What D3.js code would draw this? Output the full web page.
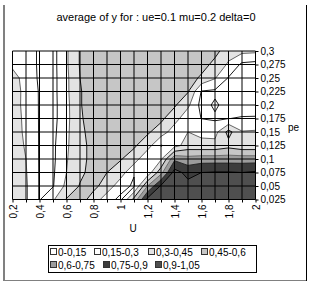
<!DOCTYPE html>
<html><head><meta charset="utf-8">
<script src="https://cdn.jsdelivr.net/npm/d3@7"></script>
<style>
html,body{margin:0;padding:0;background:#fff;}
svg{display:block;font-family:"Liberation Sans",Arial,sans-serif;}
</style></head><body>
<svg id="c" width="310" height="289"></svg>
<script>
const title = "average of y for : ue=0.1 mu=0.2 delta=0";
const uValues = [0.2,0.3,0.4,0.5,0.6,0.7,0.8,0.9,1.0,1.1,1.2,1.3,1.4,1.5,1.6,1.7,1.8,1.9,2.0];
const uTickLabels = ["0,2","0,4","0,6","0,8","1","1,2","1,4","1,6","1,8","2"];
const peValues = [0.3,0.275,0.25,0.225,0.2,0.175,0.15,0.125,0.1,0.075,0.05,0.025];
const peTickLabels = ["0,3","0,275","0,25","0,225","0,2","0,175","0,15","0,125","0,1","0,075","0,05","0,025"];
const bandThresholds = [0.15,0.3,0.45,0.6,0.75,0.9];
const bandLabels = ["0-0,15","0,15-0,3","0,3-0,45","0,45-0,6","0,6-0,75","0,75-0,9","0,9-1,05"];
const bandColors = ["#ffffff","#ffffff","#e3e3e3","#c6c6c6","#9c9c9c","#3d3d3d","#4f4f4f"];
const lineColors = ["#000","#555","#000","#666","#222","#000"];
// average of y, rows = pe from 0.3 (top) to 0.025 (bottom), columns = U 0.2 .. 2.0
const zRows = [
 [.25,.22,.13,.10,.28,.46,.52,.55,.55,.55,.55,.55,.55,.55,.55,.50,.36,.34,.33],
 [.27,.22,.13,.10,.28,.46,.52,.55,.55,.55,.55,.55,.55,.55,.52,.40,.28,.12,.10],
 [.36,.24,.13,.10,.27,.45,.52,.55,.55,.55,.55,.55,.55,.53,.42,.31,.14,.09,.09],
 [.38,.25,.14,.10,.27,.44,.52,.55,.55,.55,.55,.55,.54,.46,.14,.125,.08,.08,.09],
 [.36,.26,.14,.10,.26,.44,.52,.55,.55,.55,.55,.54,.47,.33,.10,.17,.10,.09,.10],
 [.36,.27,.14,.10,.26,.43,.52,.55,.55,.55,.54,.48,.36,.20,.148,.13,.148,.16,.16],
 [.35,.28,.14,.11,.27,.42,.50,.55,.55,.54,.47,.38,.22,.30,.26,.25,.50,.31,.32],
 [.35,.29,.14,.12,.28,.40,.50,.55,.54,.47,.37,.14,.25,.36,.35,.35,.40,.35,.35],
 [.36,.30,.14,.12,.29,.40,.50,.53,.46,.38,.16,.28,.72,.66,.68,.68,.68,.68,.68],
 [.37,.31,.14,.13,.30,.42,.50,.45,.38,.16,.20,.55,.96,.85,.90,.91,.91,.90,.92],
 [.37,.32,.14,.14,.34,.46,.48,.40,.20,.13,.60,.92,.96,.95,.95,.95,.95,.95,.95],
 [.37,.32,.14,.28,.46,.50,.40,.20,.12,.50,.94,.96,.97,.97,.97,.97,.97,.97,.97]
];

const svg = d3.select("#c");
const x = d3.scaleLinear().domain([uValues[0], uValues[uValues.length-1]]).range([12.5, 255.5]);
const y = d3.scaleLinear().domain([peValues[peValues.length-1], peValues[0]]).range([199.5, 51]);
const nx = uValues.length, ny = peValues.length;
const du = uValues[1]-uValues[0], dpe = peValues[1]-peValues[0];

// border
svg.append("line").attr("x1",4).attr("y1",5).attr("x2",4).attr("y2",281).attr("stroke","#808080").attr("stroke-width",2);
svg.append("line").attr("x1",3).attr("y1",280.5).attr("x2",306).attr("y2",280.5).attr("stroke","#808080").attr("stroke-width",1);
svg.append("line").attr("x1",306.5).attr("y1",5).attr("x2",306.5).attr("y2",281).attr("stroke","#000").attr("stroke-width",1);

svg.append("text").attr("x",156).attr("y",20.5).attr("text-anchor","middle")
  .attr("font-size",11).attr("fill","#000").text(title);

svg.append("clipPath").attr("id","pc").append("rect")
  .attr("x",x(uValues[0])).attr("y",y(peValues[0]))
  .attr("width",x(uValues[nx-1])-x(uValues[0])).attr("height",y(peValues[ny-1])-y(peValues[0]));

const values = zRows.flat();
const contours = d3.contours().size([nx, ny]).thresholds(bandThresholds)(values);
const proj = d3.geoTransform({point(px, py){
  this.stream.point(x(uValues[0] + (px-0.5)*du), y(peValues[0] + (py-0.5)*dpe));
}});
const path = d3.geoPath(proj);

const plot = svg.append("g").attr("clip-path","url(#pc)");
plot.append("rect").attr("x",x(uValues[0])).attr("y",y(peValues[0]))
  .attr("width",x(uValues[nx-1])-x(uValues[0])).attr("height",y(peValues[ny-1])-y(peValues[0]))
  .attr("fill",bandColors[0]);
plot.selectAll("path.fill").data(contours).join("path").attr("class","fill")
  .attr("d",path).attr("fill",(d,i)=>bandColors[i+1]).attr("stroke","none");

// gridlines
const grid = svg.append("g");
grid.selectAll("line.v").data(uValues).join("line").attr("class","v")
  .attr("x1",d=>x(d)).attr("x2",d=>x(d)).attr("y1",y(peValues[0])).attr("y2",y(peValues[ny-1]))
  .attr("stroke","#000").attr("stroke-width",1);
grid.selectAll("line.h").data(peValues).join("line").attr("class","h")
  .attr("y1",d=>y(d)).attr("y2",d=>y(d)).attr("x1",x(uValues[0])).attr("x2",x(uValues[nx-1]))
  .attr("stroke","#000").attr("stroke-width",1);

plot.selectAll("path.line").data(contours).join("path").attr("class","line")
  .attr("d",path).attr("fill","none").attr("stroke",(d,i)=>lineColors[i]).attr("stroke-width",0.9);

// axes
const xAxis = d3.axisBottom(x).tickValues(uValues).tickSize(3).tickSizeOuter(0)
  .tickFormat((d,i)=> i%2===0 ? uTickLabels[i/2] : "");
const gx = svg.append("g").attr("transform",`translate(0,${y(peValues[ny-1])})`).call(xAxis);
gx.select(".domain").remove();
gx.selectAll("line").attr("stroke","#000");
gx.selectAll("text").attr("transform","rotate(-90)").attr("x",-5).attr("y",0).attr("dy","0.35em")
  .attr("text-anchor","end").attr("font-size",10).attr("font-family","Liberation Sans, Arial, sans-serif").attr("fill","#000");

const yAxis = d3.axisRight(y).tickValues(peValues).tickSize(3).tickSizeOuter(0)
  .tickFormat((d,i)=>peTickLabels[i]);
const gy = svg.append("g").attr("transform",`translate(${x(uValues[nx-1])},0)`).call(yAxis);
gy.select(".domain").remove();
gy.selectAll("line").attr("stroke","#000");
gy.selectAll("text").attr("x",5).attr("font-size",10).attr("font-family","Liberation Sans, Arial, sans-serif").attr("fill","#000");

svg.append("text").attr("x",133).attr("y",232).attr("text-anchor","middle").attr("font-size",10).text("U");
svg.append("text").attr("x",288).attr("y",131).attr("font-size",10).text("pe");

// legend
const lg = svg.append("g");
lg.append("rect").attr("x",48.5).attr("y",245.5).attr("width",208).attr("height",27)
  .attr("fill","#fff").attr("stroke","#000");
const legendPos = [[50,252],[94,252],[148,252],[201,252],[50,265],[103,265],[155,265]];
bandLabels.forEach((lab,i)=>{
  const [lx,ly] = legendPos[i];
  lg.append("rect").attr("x",lx+0.5).attr("y",ly-3.5).attr("width",6).attr("height",6)
    .attr("fill",bandColors[i]).attr("stroke","#333").attr("stroke-width",1);
  lg.append("text").attr("x",lx+8).attr("y",ly).attr("dy","0.35em").attr("font-size",10).text(lab);
});
</script></body></html>
